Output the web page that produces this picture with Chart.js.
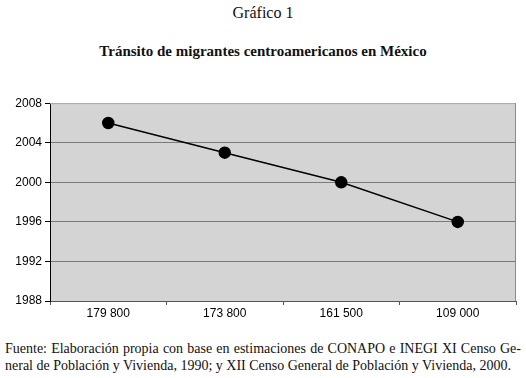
<!DOCTYPE html>
<html>
<head>
<meta charset="utf-8">
<script src="https://cdn.jsdelivr.net/npm/chart.js@4"></script>
<style>
  body { margin: 0; background: #fff; width: 526px; height: 378px; position: relative; overflow: hidden; }
  .t { position: absolute; left: 0; width: 526px; text-align: center; font-family: "Liberation Serif", serif; color: #111; }
  #wrap { position: absolute; left: 0; top: 93px; width: 526px; height: 240px; }
  .note { position: absolute; left: 5px; width: 516px; font-family: "Liberation Serif", serif; font-size: 14px; color: #111; white-space: nowrap; }
  .just { text-align: justify; text-align-last: justify; white-space: normal; }
</style>
</head>
<body>
<div class="t" style="top:4px;font-size:16px;">Gráfico 1</div>
<div class="t" style="top:43px;font-size:15px;font-weight:bold;">Tránsito de migrantes centroamericanos en México</div>
<div id="wrap"><canvas id="chart"></canvas></div>
<div class="note just" style="top:341px;">Fuente: Elaboración propia con base en estimaciones de CONAPO e INEGI XI Censo Ge-</div>
<div class="note" style="top:358px;">neral de Población y Vivienda, 1990; y XII Censo General de Población y Vivienda, 2000.</div>
<script>
// ---------------- Data --------------------------------------------------
const categories = [ '179 800', '173 800', '161 500', '109 000' ] ;
const yearValues = [ 2006, 2003, 2000, 1996 ] ;
const yTicks = [ 1988, 1992, 1996, 2000, 2004, 2008 ] ;

// plot background + frame
const plotBg = {
    id: 'plotBg',
    beforeDraw( chart ) {
        const a = chart.chartArea, ctx = chart.ctx ;
        ctx.save() ;
        ctx.fillStyle = '#d4d4d4' ;
        ctx.fillRect( a.left, a.top, a.right - a.left, a.bottom - a.top ) ;
        ctx.restore() ;
    },
    beforeDatasetsDraw( chart ) {
        const a = chart.chartArea, ctx = chart.ctx ;
        ctx.save() ;
        ctx.lineWidth = 1 ;
        ctx.strokeStyle = '#b8b8b8' ;
        ctx.beginPath() ;
        ctx.moveTo( a.left, a.top + 0.5 ) ;
        ctx.lineTo( a.right, a.top + 0.5 ) ;
        ctx.stroke() ;
        ctx.strokeStyle = '#8a8a8a' ;
        ctx.beginPath() ;
        ctx.moveTo( a.right - 0.5, a.top ) ;
        ctx.lineTo( a.right - 0.5, a.bottom ) ;
        ctx.stroke() ;
        ctx.restore() ;
    }
} ;

new Chart( document.getElementById( 'chart' ), {
    type: 'line',
    data: {
        labels: categories,
        datasets: [ {
            data: yearValues,
            borderColor: '#000',
            borderWidth: 1.5,
            pointRadius: 5.5,
            pointHoverRadius: 5.5,
            pointBackgroundColor: '#000',
            pointBorderColor: '#000',
            tension: 0
        } ]
    },
    options: {
        responsive: true,
        maintainAspectRatio: false,
        animation: false,
        events: [],
        layout: { padding: { top: 8, right: 10, bottom: 10, left: 0 } },
        plugins: { legend: { display: false }, tooltip: { enabled: false } },
        scales: {
            x: {
                offset: true,
                grid: { offset: true, drawOnChartArea: false, drawTicks: true, tickLength: 4, color: '#555' },
                border: { color: '#555' },
                ticks: { color: '#000', padding: 1, maxRotation: 0, font: { family: 'Liberation Sans', size: 12 } },
                afterFit( scale ) { scale.height = 22 ; }
            },
            y: {
                min: 1988,
                max: 2008,
                afterBuildTicks( scale ) { scale.ticks = yTicks.map( v => ( { value: v } ) ) ; },
                grid: { color: '#7a7a7a', tickLength: 5, tickColor: '#000' },
                border: { color: '#000' },
                ticks: {
                    color: '#000', padding: 3, font: { family: 'Liberation Sans', size: 12 },
                    callback: v => String( v )
                },
                afterFit( scale ) { scale.width = 50 ; }
            }
        }
    },
    plugins: [ plotBg ]
} ) ;
</script>
</body>
</html>
